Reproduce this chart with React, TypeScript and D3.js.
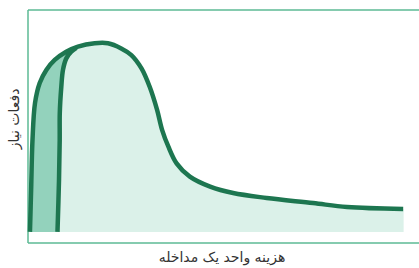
import React from 'react';
import * as d3 from 'd3';

// outer curve: total need frequency vs. unit cost
const outerCost = [0.5, 0.8, 1.15, 1.8, 3.0, 4.7, 6.85, 9.8, 12.8, 17.1, 20.5, 23.9, 26.5, 29.1, 31.2, 33.1, 34.4, 36.0, 38.1, 41.5, 46.7, 52.6, 61.2, 73.1, 81.8, 96.2];
const outerFreq = [0, 18.9, 41.4, 58.1, 67.1, 73.0, 77.5, 81.2, 83.5, 85.0, 85.0, 82.7, 79.7, 73.7, 65.4, 55.0, 45.9, 38.4, 30.9, 24.9, 20.4, 17.5, 15.3, 13.0, 11.2, 10.3];

// inner curve: joins the outer one near its top
const innerCost = [7.56, 7.95, 8.13, 8.15, 8.54, 8.97, 9.82, 11.1, 12.4];
const innerFreq = [0, 23.4, 41.4, 53.6, 65.4, 73.0, 78.2, 81.2, 82.9];

const xLabel = 'هزینه واحد یک مداخله';
const yLabel = 'دفعات نیاز';

const W = 419;
const H = 268;

export default function App() {
    const x = d3.scaleLinear().domain([0, 100]).range([28, 418]);
    const y = d3.scaleLinear().domain([-5, 100]).range([243, 10]);

    const outer: [number, number][] = outerCost.map((c, i) => [c, outerFreq[i]]);
    const inner: [number, number][] = innerCost.map((c, i) => [c, innerFreq[i]]);
    const lastInner = innerCost[innerCost.length - 1];
    const lightPts: [number, number][] = inner.concat(outer.filter(p => p[0] > lastInner));

    const line = d3.line<[number, number]>()
        .x(d => x(d[0]))
        .y(d => y(d[1]))
        .curve(d3.curveCatmullRom.alpha(0.5));

    const area = d3.area<[number, number]>()
        .x(d => x(d[0]))
        .y0(y(0))
        .y1(d => y(d[1]))
        .curve(d3.curveCatmullRom.alpha(0.5));

    const axisColor = '#5dba94';
    const strokeColor = '#1d7650';

    return (
        <svg
            width={W}
            height={H}
            style={{ position: 'absolute', left: 0, top: 0, background: '#fff' }}
        >
            {/* frame */}
            <line x1={x(0)} x2={x(0)} y1={y(100)} y2={y(-5)} stroke={axisColor} strokeWidth={1.5} />
            <line x1={x(0)} x2={W} y1={y(100)} y2={y(100)} stroke={axisColor} strokeWidth={1.5} />
            <line x1={x(0)} x2={W} y1={y(-5)} y2={y(-5)} stroke={axisColor} strokeWidth={1.5} />

            <path d={area(outer) || ''} fill="#93d2bc" />
            <path d={area(lightPts) || ''} fill="#dbf1e9" />

            <path d={line(outer) || ''} fill="none" stroke={strokeColor} strokeWidth={4.5} />
            <path d={line(inner) || ''} fill="none" stroke={strokeColor} strokeWidth={4.5} />

            <text
                x={222}
                y={262}
                textAnchor="middle"
                fontFamily="DejaVu Sans"
                fontSize={14}
                fill="#333"
            >
                {xLabel}
            </text>
            <text
                transform="translate(19,119) rotate(-90)"
                textAnchor="middle"
                fontFamily="DejaVu Sans"
                fontSize={14}
                fill="#333"
            >
                {yLabel}
            </text>
        </svg>
    );
}
